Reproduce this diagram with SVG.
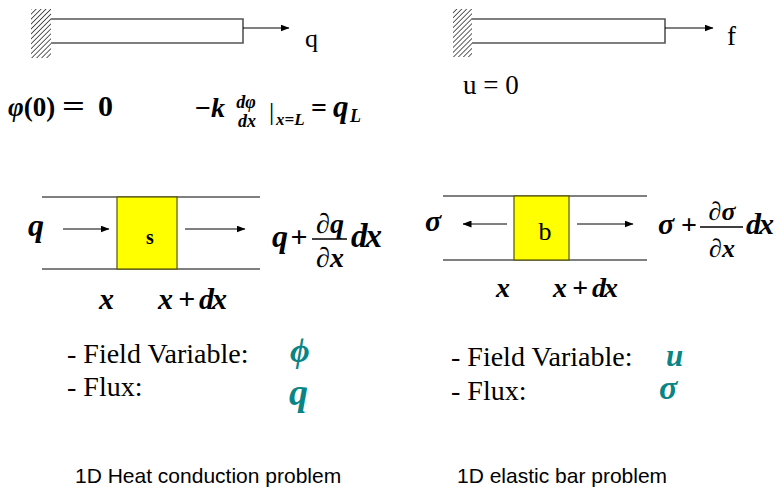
<svg xmlns="http://www.w3.org/2000/svg" width="777" height="490" viewBox="0 0 777 490">
<style>
.ser{font-family:'Liberation Serif','DejaVu Serif',serif;fill:#000}
.bi{font-family:'Liberation Serif','DejaVu Serif',serif;font-weight:bold;font-style:italic;fill:#000}
.b{font-family:'Liberation Serif','DejaVu Serif',serif;font-weight:bold;fill:#000}
.sans{font-family:'Liberation Sans',Arial,sans-serif;font-size:21px;fill:#000}
.teal{fill:#0a8585}
.bar{fill:#fff;stroke:#555;stroke-width:1.6}
.wire{stroke:#000;stroke-width:1;fill:none}
.fr{stroke:#000;stroke-width:1.5}
.blk{fill:#ffff00;stroke:#555500;stroke-width:1.2}
</style>
<defs>
<pattern id="hatch" width="3.5" height="3.5" patternUnits="userSpaceOnUse" patternTransform="rotate(45)">
<rect width="3.5" height="3.5" fill="#fff"/>
<line x1="0" y1="0" x2="0" y2="3.5" stroke="#333" stroke-width="1.6"/>
</pattern>
<marker id="ah" markerWidth="9" markerHeight="7" refX="8.5" refY="3.5" orient="auto" markerUnits="userSpaceOnUse">
<path d="M0,0 L9,3.5 L0,7 z" fill="#000"/>
</marker>
</defs>
<rect width="777" height="490" fill="#fff"/>

<g id="heat-bar">
<rect x="31" y="9" width="20" height="49" fill="url(#hatch)"/>
<path class="bar" d="M51,19 H243 V43 H51"/>
<text class="ser" x="305" y="47" font-size="26">q</text>
</g>

<g id="elastic-bar">
<rect x="453" y="9" width="19" height="48" fill="url(#hatch)"/>
<path class="bar" d="M472,19 H665 V43 H472"/>
<text class="ser" x="727" y="45" font-size="27">f</text>
<text class="ser" x="463" y="94" font-size="27">u = 0</text>
</g>

<g id="heat-bc">
<text class="b" x="8" y="116" font-size="27"><tspan class="bi">φ</tspan>(0)</text>
<text class="b" x="62" y="116" font-size="30" textLength="23" lengthAdjust="spacingAndGlyphs">=</text>
<text class="b" x="98" y="116" font-size="30">0</text>
<text class="b" x="195" y="117" font-size="28">−<tspan class="bi">k</tspan></text>
<text class="bi" x="246" y="108" font-size="18" text-anchor="middle">dφ</text>
<text class="bi" x="247" y="127" font-size="18" text-anchor="middle">dx</text>
<text class="ser" x="269" y="120" font-size="26">|</text>
<text class="bi" x="276" y="125" font-size="17">x=L</text>
<text class="b" x="311" y="117" font-size="28">=</text>
<text class="bi" x="333" y="117" font-size="31">q</text>
<text class="bi" x="350" y="122" font-size="18">L</text>
</g>

<g id="heat-element">
<line class="wire" x1="42" y1="197" x2="260" y2="197"/>
<line class="wire" x1="42" y1="269" x2="260" y2="269"/>
<rect class="blk" x="117" y="197" width="60" height="72"/>
<text class="b" x="150" y="244" font-size="20" text-anchor="middle">s</text>
<text class="bi" x="28" y="236" font-size="32">q</text>
<text class="bi" x="272" y="247" font-size="32">q</text>
<text class="b" x="299" y="247" font-size="30" text-anchor="middle">+</text>
<line class="fr" x1="312" y1="239" x2="347" y2="239"/>
<text class="bi" x="330" y="233" font-size="28" text-anchor="middle">∂q</text>
<text class="bi" x="330" y="267" font-size="28" text-anchor="middle">∂x</text>
<text class="bi" x="351" y="247" font-size="33" letter-spacing="-2">dx</text>
<text class="bi" x="99" y="309" font-size="30">x</text>
<text class="bi" x="158" y="309" font-size="30">x<tspan class="b" dx="5">+</tspan><tspan dx="4" letter-spacing="-2">dx</tspan></text>
</g>

<g id="elastic-element">
<line class="wire" x1="443" y1="196" x2="647" y2="196"/>
<line class="wire" x1="443" y1="260" x2="647" y2="260"/>
<rect class="blk" x="514" y="196" width="55" height="64"/>
<text class="ser" x="545" y="240" font-size="26" text-anchor="middle">b</text>
<text class="bi" x="425" y="231" font-size="30">σ</text>
<text class="bi" x="658" y="234" font-size="30">σ</text>
<text class="b" x="689" y="234" font-size="28" text-anchor="middle">+</text>
<line class="fr" x1="700" y1="227" x2="743" y2="227"/>
<text class="bi" x="722" y="220" font-size="26" text-anchor="middle">∂σ</text>
<text class="bi" x="722" y="257" font-size="26" text-anchor="middle">∂x</text>
<text class="bi" x="746" y="234" font-size="30" letter-spacing="-2">dx</text>
<text class="bi" x="496" y="297" font-size="28">x</text>
<text class="bi" x="553" y="297" font-size="28">x<tspan class="b" dx="5">+</tspan><tspan dx="4" letter-spacing="-2">dx</tspan></text>
</g>

<g id="connectors">
<line class="wire" x1="243" y1="28" x2="289" y2="28" marker-end="url(#ah)"/>
<line class="wire" x1="665" y1="28" x2="713" y2="28" marker-end="url(#ah)"/>
<line class="wire" x1="63" y1="229" x2="109" y2="229" marker-end="url(#ah)"/>
<line class="wire" x1="185" y1="229" x2="245" y2="229" marker-end="url(#ah)"/>
<line class="wire" x1="507" y1="224" x2="463" y2="224" marker-end="url(#ah)"/>
<line class="wire" x1="577" y1="224" x2="633" y2="224" marker-end="url(#ah)"/>
</g>

<g id="heat-vars">
<text class="ser" x="67" y="363" font-size="28">- Field Variable:</text>
<text class="ser" x="67" y="396" font-size="28">- Flux:</text>
<text class="bi teal" x="290" y="362" font-size="34">ϕ</text>
<text class="bi teal" x="289" y="405" font-size="38">q</text>
<text class="sans" x="75" y="483">1D Heat conduction problem</text>
</g>

<g id="elastic-vars">
<text class="ser" x="451" y="366" font-size="28">- Field Variable:</text>
<text class="ser" x="451" y="400" font-size="28">- Flux:</text>
<text class="bi teal" x="666" y="366" font-size="31">u</text>
<text class="bi teal" x="659" y="399" font-size="34">σ</text>
<text class="sans" x="457" y="483">1D elastic bar problem</text>
</g>
</svg>
